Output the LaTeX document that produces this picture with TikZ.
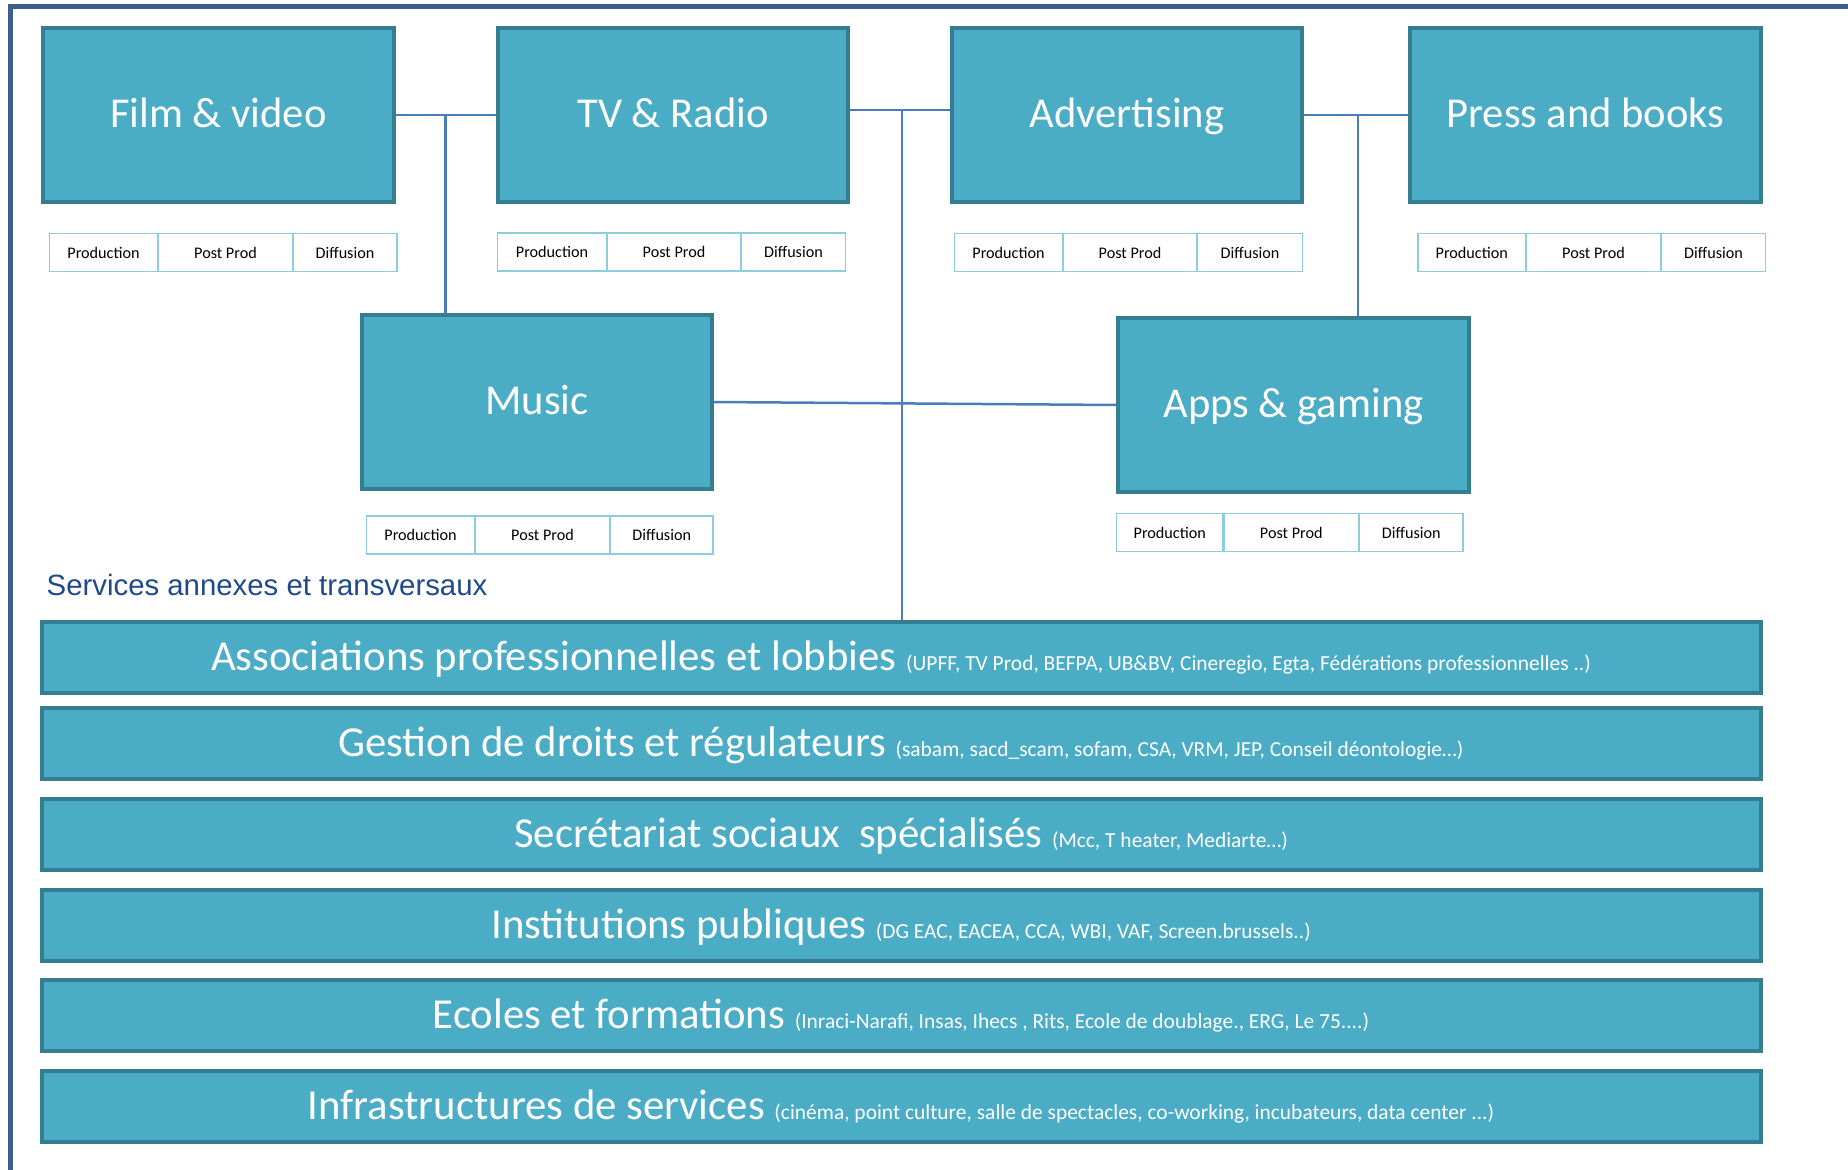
\documentclass[tikz,border=0pt]{standalone}
\usepackage{fontspec}
\setmainfont{Carlito}
\newfontfamily\arialfont{Liberation Sans}
\usepackage{tikz}

\definecolor{boxfill}{HTML}{4BACC6}
\definecolor{boxline}{HTML}{357D91}
\definecolor{cellline}{HTML}{8ECDE0}
\definecolor{linkline}{HTML}{4A7EBB}
\definecolor{frameline}{HTML}{3B5E8C}
\definecolor{titleblue}{HTML}{1F4A87}

\newcommand{\bandnote}[1]{{\fontsize{6.1}{8}\selectfont #1}}

\begin{document}
\begin{tikzpicture}[x=0.01cm, y=-0.01cm,
	sector/.style={shape=rectangle, draw=boxline, fill=boxfill, line width=0.04cm, minimum width=3.50cm, minimum height=1.74cm, inner sep=0pt, text=white, font=\fontsize{12.1}{14}\selectfont, text height=0.257cm, text depth=0pt},
	band/.style={shape=rectangle, draw=boxline, fill=boxfill, line width=0.04cm, minimum width=17.18cm, minimum height=0.71cm, inner sep=0pt, text=white, font=\fontsize{12.15}{14}\selectfont, text height=0.254cm, text depth=0pt},
	cell/.style={shape=rectangle, draw=cellline, fill=white, line width=0.015cm, minimum height=0.375cm, inner sep=0pt, font=\fontsize{4.6}{6}\selectfont, text height=0.11cm, text depth=0pt},
	link/.style={draw=linkline, line width=0.025cm}]

	\useasboundingbox (0,0) rectangle (1848,1170);
	\draw[frameline, line width=0.045cm] (10.6,1170) -- (10.6,6.7) -- (1848,6.7);

	\node[sector] (film) at (218.5,115) {Film \& video};
	\node[sector] (tv) at (673,115) {TV \& Radio};
	\node[sector] (adv) at (1127,115) {Advertising};
	\node[sector] (press) at (1585.5,115) {Press and books};

	\node[sector] (music) at (537,402) {Music};
	\node[sector] (apps) at (1293.5,405) {Apps \& gaming};

	\node[cell, minimum width=1.075cm] (film1) at (103.5,252.5) {Production};
	\node[cell, minimum width=1.335cm] (film2) at (225.5,252.5) {Post Prod};
	\node[cell, minimum width=1.035cm] (film3) at (345,252.5) {Diffusion};

	\node[cell, minimum width=1.085cm] (tv1) at (552,252) {Production};
	\node[cell, minimum width=1.325cm] (tv2) at (674,252) {Post Prod};
	\node[cell, minimum width=1.035cm] (tv3) at (793.5,252) {Diffusion};

	\node[cell, minimum width=1.075cm] (adv1) at (1008.5,252.5) {Production};
	\node[cell, minimum width=1.325cm] (adv2) at (1130,252.5) {Post Prod};
	\node[cell, minimum width=1.045cm] (adv3) at (1250,252.5) {Diffusion};

	\node[cell, minimum width=1.07cm] (press1) at (1471.75,252.5) {Production};
	\node[cell, minimum width=1.335cm] (press2) at (1593.5,252.5) {Post Prod};
	\node[cell, minimum width=1.035cm] (press3) at (1713.5,252.5) {Diffusion};

	\node[cell, minimum width=1.075cm] (music1) at (420.5,535) {Production};
	\node[cell, minimum width=1.335cm] (music2) at (542.5,535) {Post Prod};
	\node[cell, minimum width=1.02cm] (music3) at (661.75,535) {Diffusion};

	\node[cell, minimum width=1.06cm] (apps1) at (1169.75,532.5) {Production};
	\node[cell, minimum width=1.34cm] (apps2) at (1291.25,532.5) {Post Prod};
	\node[cell, minimum width=1.03cm] (apps3) at (1411.25,532.5) {Diffusion};

	\node[anchor=west, inner sep=0pt, text=titleblue, font=\arialfont\fontsize{8.35}{10}\selectfont, text height=0.21cm, text depth=0pt] (services) at (46,585) {Services annexes et transversaux};

	\node[band] (b1) at (901,657.5) {Associations professionnelles et lobbies \bandnote{(UPFF, TV Prod, BEFPA, UB\&BV, Cineregio, Egta, Fédérations professionnelles ..)}};
	\node[band] (b2) at (901,743.5) {Gestion de droits et régulateurs \bandnote{(sabam, sacd\_scam, sofam, CSA, VRM, JEP, Conseil déontologie…)}};
	\node[band] (b3) at (901,834.5) {Secrétariat sociaux \ spécialisés \bandnote{(Mcc, T heater, Mediarte…)}};
	\node[band] (b4) at (901,925.5) {Institutions publiques \bandnote{(DG EAC, EACEA, CCA, WBI, VAF, Screen.brussels..)}};
	\node[band] (b5) at (901,1015.5) {Ecoles et formations \bandnote{(Inraci-Narafi, Insas, Ihecs , Rits, Ecole de doublage., ERG, Le 75....)}};
	\node[band] (b6) at (901,1106.5) {Infrastructures de services \bandnote{(cinéma, point culture, salle de spectacles, co-working, incubateurs, data center ...)}};

	\coordinate (j1) at (445.5,115);
	\coordinate (hub) at (902,110);
	\coordinate (j2) at (1358,115);

	\draw[link] (film.east) -- (tv.west);
	\draw[link] (j1) -- (j1 |- music.north);
	\draw[link] (tv.east |- hub) -- (adv.west |- hub);
	\draw[link] (hub) -- (hub |- b1.north);
	\draw[link] (adv.east) -- (press.west);
	\draw[link] (j2) -- (j2 |- apps.north);
	\draw[link] (music.east) -- (apps.west);
\end{tikzpicture}
\end{document}
